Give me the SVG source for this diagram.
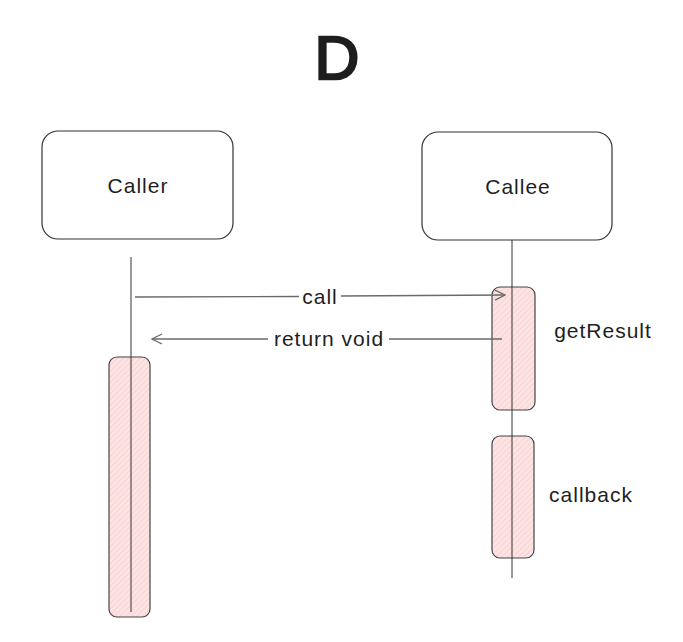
<svg xmlns="http://www.w3.org/2000/svg" width="683" height="642" viewBox="0 0 683 642">
<defs>
<pattern id="hatch" width="4" height="4" patternUnits="userSpaceOnUse" patternTransform="rotate(45)">
<rect width="4" height="4" fill="#fde4e4"/>
<line x1="0" y1="0" x2="0" y2="4" stroke="#f7c4c4" stroke-width="1.2"/>
</pattern>
<marker id="arr" viewBox="0 0 12 12" refX="11" refY="6" markerWidth="12" markerHeight="12" markerUnits="userSpaceOnUse" orient="auto">
<path d="M1 1 L11 6 L1 11" fill="none" stroke="#6a6a6a" stroke-width="1.3"/>
</marker>
</defs>
<style>
.box{fill:#fff;stroke:#333;stroke-width:1.2}
.act{fill:url(#hatch);stroke:#444;stroke-width:1.2}
.life{stroke:#333;stroke-width:1;fill:none}
.msg{stroke:#6a6a6a;stroke-width:1.3;fill:none}
.t{font-family:"Liberation Sans",Arial,sans-serif;fill:#1e1e1e;text-anchor:middle;dominant-baseline:central;font-size:21px;letter-spacing:1px}
</style>
<rect width="683" height="642" fill="#fff"/>
<text class="t" x="337" y="57" style="font-size:62px;letter-spacing:0;stroke:#1e1e1e;stroke-width:2.5">D</text>
<g id="caller">
<rect class="box" x="42" y="131" width="191" height="108" rx="16"/>
<text class="t" x="138" y="185">Caller</text>
</g>
<g id="callee">
<rect class="box" x="422" y="132" width="190" height="108" rx="16"/>
<text class="t" x="518" y="186">Callee</text>
</g>
<g id="caller-activation">
<rect class="act" x="109" y="357" width="41" height="260" rx="8"/>
</g>
<g id="getResult">
<rect class="act" x="492" y="287" width="43" height="123" rx="8"/>
<text class="t" x="603" y="330">getResult</text>
</g>
<g id="callback">
<rect class="act" x="492" y="436" width="42" height="122" rx="8"/>
<text class="t" x="591" y="494">callback</text>
</g>
<g id="connectors">
<line class="life" x1="131" y1="257" x2="131" y2="612"/>
<line class="life" x1="512" y1="240" x2="512" y2="578"/>
<line class="msg" x1="135" y1="297" x2="299" y2="296.5"/>
<line class="msg" x1="341" y1="296" x2="505" y2="295" marker-end="url(#arr)"/>
<text class="t" x="320" y="296">call</text>
<line class="msg" x1="502" y1="339" x2="389" y2="339"/>
<line class="msg" x1="268" y1="339" x2="152" y2="339" marker-end="url(#arr)"/>
<text class="t" x="329" y="338">return void</text>
</g>
</svg>
